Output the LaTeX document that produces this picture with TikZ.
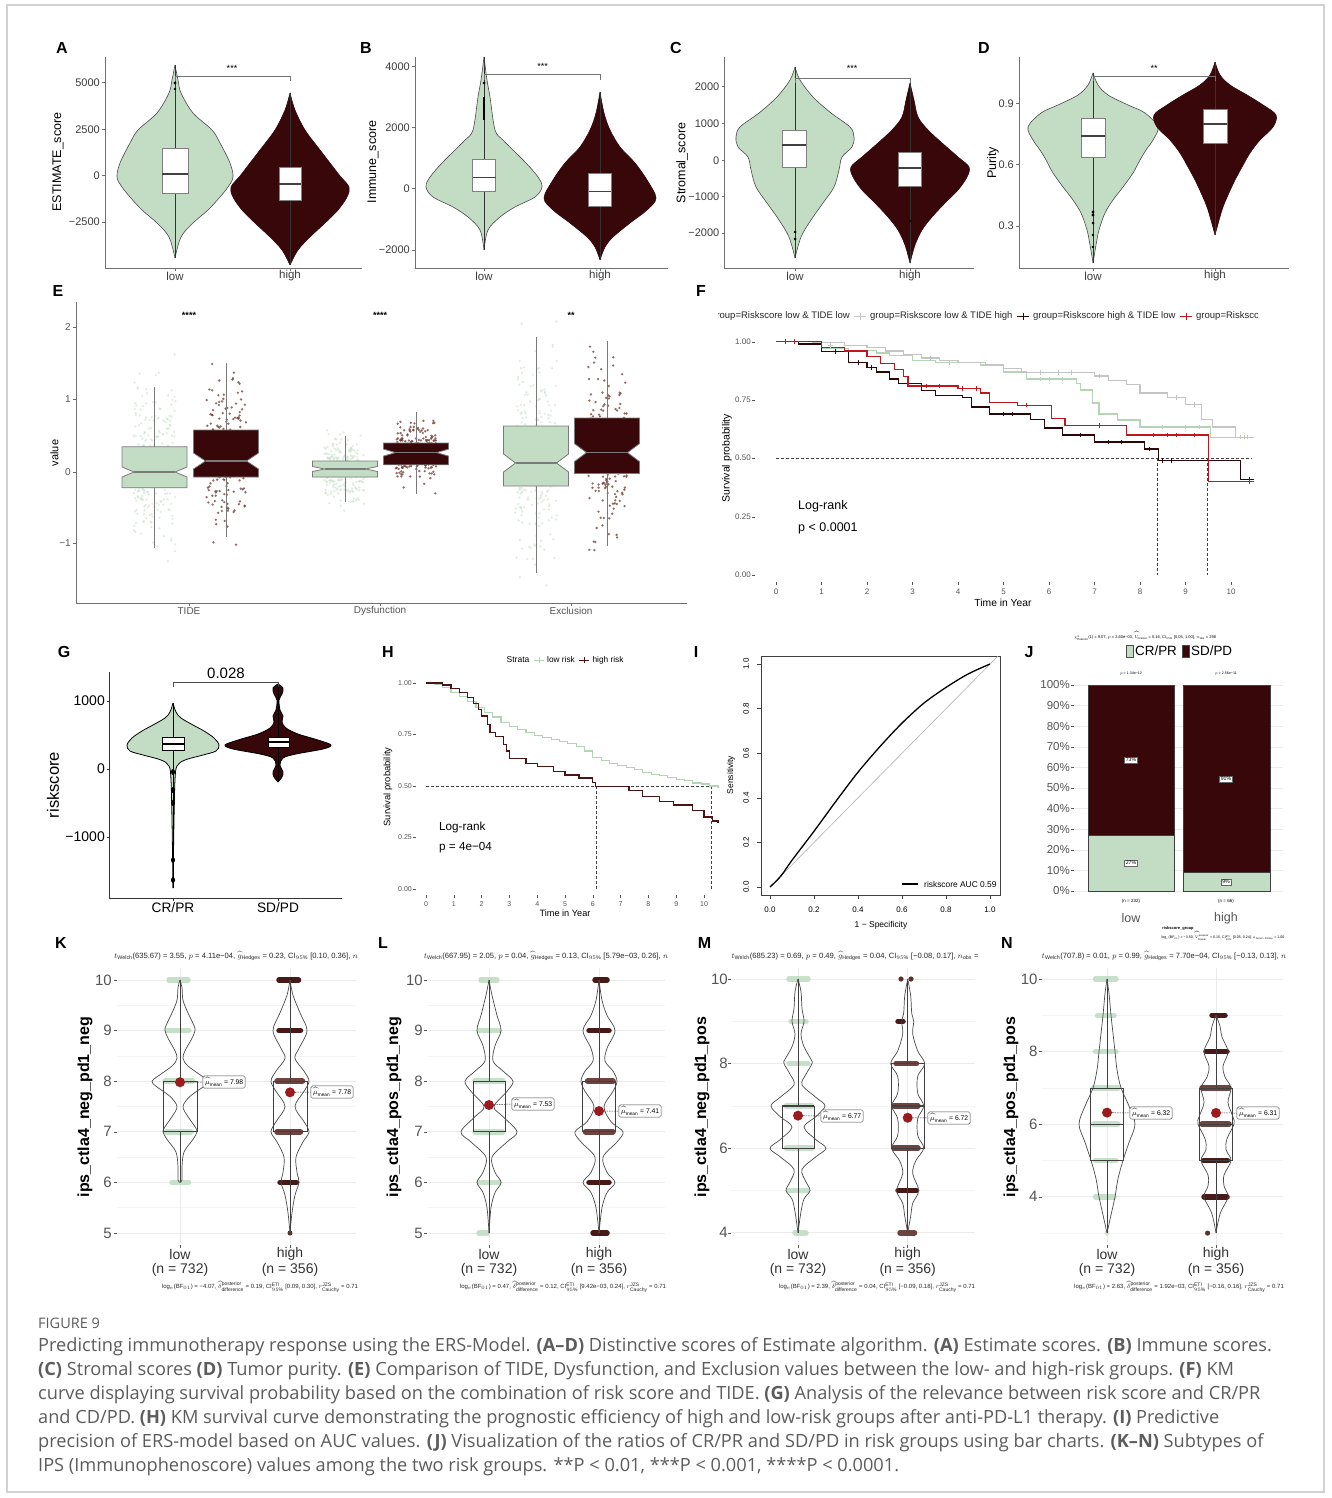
\RequirePackage{fix-cm}
\documentclass[tikz,border=0pt]{standalone}
\usepackage{fontspec}
\setmainfont{Liberation Sans}
\newfontfamily\capfont{Open Sans}
\usetikzlibrary{calc}
\definecolor{lowg}{HTML}{C2DDC4}
\definecolor{highr}{HTML}{370709}
\definecolor{axc}{HTML}{707070}
\definecolor{tkc}{HTML}{3C3C3C}
\definecolor{tkg}{HTML}{555555}
\definecolor{vout}{HTML}{4A4A4A}
\definecolor{boxl}{HTML}{808080}
\definecolor{nbl}{HTML}{7A7A7A}
\definecolor{ptbr}{HTML}{6E3B33}
\definecolor{kmred}{HTML}{C0171F}
\definecolor{kmgray}{HTML}{C4C4C4}
\definecolor{kmgreen}{HTML}{B3D5B3}
\definecolor{kmblk}{HTML}{2B0707}
\definecolor{hdark}{HTML}{4A1414}
\definecolor{meanr}{HTML}{9A1A1E}
\definecolor{gridc}{HTML}{EBEBEB}
\definecolor{gridm}{HTML}{F4F4F4}
\definecolor{capc}{HTML}{5C5C5C}
\definecolor{kpt}{HTML}{3E0E0C}
\definecolor{kpt2}{HTML}{5E302B}
\definecolor{bordc}{HTML}{D2D2D2}
\newcommand\fsz[1]{\fontsize{#1}{#1}\selectfont}
\newcommand\violin[4]{%
  \begin{scope}[#1]
    \fill[#2] plot[smooth,tension=0.55] coordinates {#4} -- cycle;
    \fill[#2,xscale=-1] plot[smooth,tension=0.55] coordinates {#4} -- cycle;
    \draw[#3] plot[smooth,tension=0.55] coordinates {#4};
    \draw[#3,xscale=-1] plot[smooth,tension=0.55] coordinates {#4};
  \end{scope}}
\newcommand\jit[6]{%
  \foreach \i in {1,...,#4}{%
    \pgfmathsetmacro\jx{#1+#6*rand}%
    \pgfmathsetmacro\jy{#2+#3*(rand+rand+rand)}%
    \fill[#5] (\jx,\jy) circle (1.3pt);}}
\newcommand\nbox[6]{%
  \filldraw[fill=#6,draw=nbl,line width=0.8] ({#1-32.5},#2) -- ({#1+32.5},#2) -- ({#1+32.5},{#3-#5}) -- ({#1+20.5},#3) -- ({#1+32.5},{#3+#5}) -- ({#1+32.5},#4) -- ({#1-32.5},#4) -- ({#1-32.5},{#3+#5}) -- ({#1-20.5},#3) -- ({#1-32.5},{#3-#5}) -- cycle;
  \draw[nbl,line width=1.1] ({#1-20.5},#3) -- ({#1+20.5},#3);}
\newcommand\YV[1]{\Yo+\Ys*(10-#1)}
\newcommand\pbar[4]{\draw[#4,line width=5.5,line cap=round] (#1,{\YV{#3}}) -- (#2,{\YV{#3}});}
\newcommand\kbox[5]{%
  \draw[kbx] ({#1-#2},{\YV{#5}}) rectangle ({#1+#2},{\YV{#3}});
  \draw[kbx,line width=1.2] ({#1-#2},{\YV{#4}}) -- ({#1+#2},{\YV{#4}});}
\newcommand\kwh[5]{\draw[kbx] (#1,{\YV{#5}}) -- (#1,{\YV{#4}}) (#1,{\YV{#3}}) -- (#1,{\YV{#2}});}
\newcommand\kaxis[5]{%
  \foreach \v in {#5} \draw[gridm,line width=0.6] (#2,{\YV{\v}}) -- (#3,{\YV{\v}});
  \foreach \v in {#4} {\draw[gridc,line width=0.9] (#2,{\YV{\v}}) -- (#3,{\YV{\v}});
    \draw[tkg,line width=0.6] ({#2-3},{\YV{\v}}) -- (#2,{\YV{\v}});
    \node[tkK] at (#1,{\YV{\v}}) {\v};}}
\tikzset{
  plab/.style={font=\fsz{16}\bfseries,inner sep=0},
  axl/.style={draw=axc,line width=1},
  tkA/.style={font=\fsz{11},text=tkc,anchor=east,inner sep=0},
  xlA/.style={font=\fsz{11.5},text=tkc,inner sep=0},
  ylA/.style={font=\fsz{12.5},rotate=90,inner sep=0},
  boxA/.style={fill=white,draw=boxl,line width=0.8},
  medA/.style={draw=black!75,line width=1.2},
  whA/.style={draw=black!80,line width=0.6},
  brk/.style={draw=black!55,line width=0.6},
  star/.style={font=\fsz{9},inner sep=0},
  tkE/.style={font=\fsz{10},text=tkg,anchor=east,inner sep=0},
  xlE/.style={font=\fsz{10},text=tkg,inner sep=0},
  legF/.style={font=\fsz{9.5},text=black!85,inner sep=0},
  tkF/.style={font=\fsz{8},text=tkg,anchor=east,inner sep=0},
  tkF2/.style={font=\fsz{8},text=tkg,inner sep=0},
  kmdash/.style={draw=black!75,line width=0.6,dash pattern=on 3pt off 2pt},
  tkK/.style={font=\fsz{15},text=tkg,anchor=east,inner sep=0},
  xlK/.style={font=\fsz{14},text=black!80,inner sep=0},
  ylK/.style={font=\fsz{16}\bfseries,rotate=90,inner sep=0},
  kbx/.style={draw=black!75,line width=0.7},
  lowpt/.style={draw=lowg,draw opacity=0.9},
  hipt/.style={draw=kpt2,draw opacity=0.9},
  hipt2/.style={draw=kpt,draw opacity=0.95},
  mlab/.style={draw=black!70,fill=white,rounded corners=1.5pt,inner sep=1.8pt,font=\fsz{6.8},line width=0.5},
  mcon/.style={draw=black!80,line width=0.5,dash pattern=on 1.5pt off 1pt},
  stat/.style={font=\fsz{7.6},inner sep=0,text=black!85},
  statb/.style={font=\fsz{6},inner sep=0,text=black!85},
  capt/.style={font=\capfont\fsz{18.2},text=capc,anchor=west,inner sep=0},
}
\begin{document}
\begin{tikzpicture}[x=1pt,y=-1pt]
\useasboundingbox (0,0) rectangle (1331,1498);
\fill[white] (0,0) rectangle (1331,1498);
\draw[bordc,line width=1.2] (7,5) rectangle (1324,1492);

% ================= A
\node[plab] (labA) at (62,48) {A};
\violin{shift={(175,0)}}{lowg}{draw=vout,line width=0.6}{(0,65) (3,80) (6,93) (18,113) (37,130) (45,143) (55,163) (58,177) (53,187) (45,197) (33,210) (18,223) (6,237) (0,258)}
\draw[whA] (175,65) -- (175,258);
\draw[boxA] (162,148) rectangle (188,193);
\draw[medA] (162,174) -- (188,174);
\fill (175,83) circle (1.6pt) (175,89) circle (1.4pt);
\violin{shift={(290,0)}}{highr}{draw=highr,line width=0.6}{(0,93) (5,110) (15,130) (30,150) (40,163) (50,176) (59,187) (57,197) (48,210) (35,223) (20,237) (8,250) (0,265)}
\draw[whA] (290,93) -- (290,265);
\draw[boxA] (279,167) rectangle (301,200);
\draw[medA] (279,184) -- (301,184);
\draw[axl] (105,57) -- (105,268) -- (362,268);
\foreach \v/\y in {5000/83,2500/129.5,0/176,−2500/222}{\draw[axl] (102,\y) -- (105,\y); \node[tkA] at (100,\y) {\v};}
\draw[axl] (175,268) -- (175,271) (290,268) -- (290,271);
\node[xlA] (xA1) at (175,276) {low};
\node[xlA] (xA2) at (290,276) {high};
\node[ylA] (yA) at (58,162) {ESTIMATE\_score};
\draw[brk] (175,81) -- (175,76) -- (290,76) -- (290,81);
\node[star] (sA) at (232,68) {***};

% ================= B
\node[plab] (labB) at (366,48) {B};
\violin{shift={(484,0)}}{lowg}{draw=vout,line width=0.6}{(0,57) (3,80) (6,97) (11,130) (19,140) (29,150) (42,163) (54,177) (58,187) (51,197) (31,207) (16,217) (4,230) (0,250)}
\draw[whA] (484,57) -- (484,250);
\draw[boxA] (472.7,159.3) rectangle (495.7,191.7);
\draw[medA] (472.7,177.3) -- (495.7,177.3);
\draw[black,line width=2.6] (484,97) -- (484,120);
\fill (484,83) circle (1.5pt);
\violin{shift={(600,0)}}{highr}{draw=highr,line width=0.6}{(0,92) (4,113) (10,130) (20,147) (35,163) (47,180) (56,198) (47,210) (30,223) (13,237) (5,247) (0,260)}
\draw[whA] (600,92) -- (600,260);
\draw[boxA] (588.5,173) rectangle (611,206);
\draw[medA] (588.5,191.7) -- (611,191.7);
\draw[axl] (415,57) -- (415,268) -- (668,268);
\foreach \v/\y in {4000/66.7,2000/127.7,0/189,−2000/250}{\draw[axl] (412,\y) -- (415,\y); \node[tkA] at (410,\y) {\v};}
\draw[axl] (484,268) -- (484,271) (600,268) -- (600,271);
\node[xlA] (xB1) at (484,276) {low};
\node[xlA] (xB2) at (600,276) {high};
\node[ylA] (yB) at (373,162) {Immune\_score};
\draw[brk] (484,80) -- (484,74) -- (600,74) -- (600,80);
\node[star] (sB) at (542.7,66) {***};

% ================= C
\node[plab] (labC) at (676,48) {C};
\violin{shift={(795,0)}}{lowg}{draw=vout,line width=0.6}{(0,67) (5,80) (18,97) (36,113) (55,127) (59,137) (57,147) (47,157) (44,170) (39,187) (28,203) (16,220) (6,237) (0,258)}
\draw[whA] (795,67) -- (795,258);
\draw[boxA] (782,130) rectangle (806,167);
\draw[medA] (782,145) -- (806,145);
\fill (795,232) circle (1.5pt) (795,239) circle (1.5pt);
\violin{shift={(910,0)}}{highr}{draw=highr,line width=0.6}{(0,83) (4,100) (8,117) (18,130) (32,143) (48,157) (59,167) (57,177) (48,190) (35,203) (22,217) (12,230) (5,245) (0,263)}
\draw[whA] (910,83) -- (910,263);
\draw[boxA] (898,152) rectangle (921,186);
\draw[medA] (898,168) -- (921,168);
\fill (910,221) circle (1.3pt);
\draw[axl] (724.5,57) -- (724.5,268) -- (974,268);
\foreach \v/\y in {2000/87,1000/124,0/161,−1000/197,−2000/233}{\draw[axl] (721.5,\y) -- (724.5,\y); \node[tkA] at (719.5,\y) {\v};}
\draw[axl] (795,268) -- (795,271) (910,268) -- (910,271);
\node[xlA] (xC1) at (795,276) {low};
\node[xlA] (xC2) at (910,276) {high};
\node[ylA] (yC) at (682,163) {Stromal\_score};
\draw[brk] (795,83) -- (795,78) -- (910,78) -- (910,83);
\node[star] (sC) at (852,68) {***};

% ================= D
\node[plab] (labD) at (984,48) {D};
\violin{shift={(1093,0)}}{lowg}{draw=vout,line width=0.6}{(0,73) (5,85) (15,95) (35,105) (52,113) (65,127) (60,140) (53,150) (47,160) (40,173) (30,187) (20,200) (12,213) (6,230) (3,245) (0,263)}
\draw[whA] (1093,73) -- (1093,263);
\draw[boxA] (1081,118) rectangle (1105,157);
\draw[medA] (1081,136) -- (1105,136);
\fill (1093,212) circle (1.6pt) (1093,215) circle (1.6pt) (1093,223) circle (1.5pt) (1093,235) circle (1.4pt) (1093,247) circle (1.4pt);
\violin{shift={(1215,0)}}{highr}{draw=highr,line width=0.6}{(0,62) (5,75) (15,85) (32,95) (48,105) (61,115) (58,127) (45,140) (35,153) (27,167) (20,180) (13,195) (7,210) (0,235)}
\draw[whA] (1215,62) -- (1215,235);
\draw[boxA] (1203,109) rectangle (1227,143);
\draw[medA] (1203,124) -- (1227,124);
\draw[axl] (1019,57) -- (1019,268) -- (1289,268);
\foreach \v/\y in {0.9/104,0.6/165,0.3/226}{\draw[axl] (1016,\y) -- (1019,\y); \node[tkA] at (1014,\y) {\v};}
\draw[axl] (1093,268) -- (1093,271) (1215,268) -- (1215,271);
\node[xlA] (xD1) at (1093,276) {low};
\node[xlA] (xD2) at (1215,276) {high};
\node[ylA] (yD) at (993,163) {Purity};
\draw[brk] (1093,81) -- (1093,76) -- (1215,76) -- (1215,81);
\node[star] (sD) at (1154,68) {**};

% ================= E
\node[plab] (labE) at (58,291) {E};
\pgfmathsetseed{42}
\jit{154.5}{465}{40}{260}{lowg,fill opacity=0.5}{21}
\jit{226}{450}{36}{210}{ptbr,fill opacity=0.75}{20}
\jit{345}{469}{15}{260}{lowg,fill opacity=0.5}{21}
\jit{416}{453}{17}{210}{ptbr,fill opacity=0.75}{20}
\jit{536}{457}{50}{260}{lowg,fill opacity=0.5}{21}
\jit{607}{447}{43}{210}{ptbr,fill opacity=0.75}{20}
\draw[nbl,line width=0.7] (154.5,387) -- (154.5,547.6) (226,362.6) -- (226,537) (345,436) -- (345,502) (416,412) -- (416,493.6) (536,337) -- (536,573) (607,341) -- (607,546);
\nbox{154.5}{446.8}{472}{487.8}{5}{lowg}
\nbox{226}{430}{461}{477}{8}{highr}
\nbox{345}{461}{469}{477}{2.5}{lowg}
\nbox{416}{443}{452.6}{464.8}{3.5}{highr}
\nbox{536}{426}{463}{486}{9}{lowg}
\nbox{607}{418}{452.6}{473.4}{9}{highr}
\draw[axl] (76,302) -- (76,603) -- (687,603);
\foreach \v/\y in {2/327,1/399,0/472,−1/543}{\draw[axl] (73,\y) -- (76,\y); \node[tkE] at (71,\y) {\v};}
\foreach \x/\t in {189/TIDE,380/Dysfunction,571/Exclusion}{\draw[axl] (\x,603) -- (\x,606); \node[xlE] at (\x,611) {\t};}
\node[font=\fsz{11},rotate=90,inner sep=0] (yE) at (54.5,453) {value};
\node[star,font=\fsz{9}\bfseries] (sE1) at (189,315) {****};
\node[star,font=\fsz{9}\bfseries] (sE2) at (380,315) {****};
\node[star,font=\fsz{9}\bfseries] (sE3) at (571,315) {**};

% ================= F
\node[plab] (labF) at (701,291) {F};
\begin{scope}
  \clip (718,305) rectangle (1257,328);
  \node[legF,anchor=east] (lf1) at (850,316) {group=Riskscore low \& TIDE low};
  \draw[kmgray,line width=1] (854,316) -- (866,316) (860,312.5) -- (860,319.5);
  \node[legF,anchor=west] (lf2) at (870,316) {group=Riskscore low \& TIDE high};
  \draw[kmblk,line width=1] (1017,316) -- (1029,316) (1023,312.5) -- (1023,319.5);
  \node[legF,anchor=west] (lf3) at (1033,316) {group=Riskscore high \& TIDE low};
  \draw[kmred,line width=1] (1180,316) -- (1192,316) (1186,312.5) -- (1186,319.5);
  \node[legF,anchor=west] (lf4) at (1196,316) {group=Riskscore high \& TIDE high};
\end{scope}
\foreach \v/\y in {1.00/342,0.75/400,0.50/458,0.25/517,0.00/575}{\node[tkF] at (751,\y) {\v}; \draw[tkg,line width=0.5] (752,\y) -- (755,\y);}
\foreach \t in {0,...,10}{\node[tkF2] at ({776+45.5*\t},592) {\t}; \draw[tkg,line width=0.5] ({776+45.5*\t},582) -- ({776+45.5*\t},585);}
\node[font=\fsz{10.3},inner sep=0] (xF) at (1003,603) {Time in Year};
\node[font=\fsz{10.5},rotate=90,inner sep=0] (yF) at (727,458) {Survival probability};
\draw[kmdash] (776,458) -- (1252,458) (1157,458) -- (1157,575) (1207,458) -- (1207,575);
\node[font=\fsz{12.5},anchor=west,inner sep=0] (lrF) at (798,506) {Log-rank};
\node[font=\fsz{12.5},anchor=west,inner sep=0] (pF) at (798,528) {p < 0.0001};
\begin{scope}[shift={(776,575)},xscale=45.5,yscale=-233.3]
  \draw[kmgreen,line width=1.2] plot[const plot] coordinates {(0,1) (0.5,0.99) (1,0.972) (1.6,0.962) (2.2,0.952) (2.5,0.94) (3,0.92) (3.5,0.912) (4.5,0.9) (5,0.87) (5.5,0.84) (6.6,0.82) (6.7,0.793) (6.95,0.737) (7.1,0.69) (7.5,0.664) (8,0.634) (9.55,0.591) (10.5,0.591)};
  \draw[kmgray,line width=1.2] plot[const plot] coordinates {(0,1) (0.8,0.995) (1.5,0.985) (2,0.975) (2.4,0.96) (2.8,0.945) (3.2,0.93) (3.6,0.92) (4,0.912) (4.6,0.9) (5,0.885) (5.4,0.868) (7,0.853) (7.3,0.835) (7.7,0.815) (8,0.78) (8.6,0.76) (9,0.73) (9.35,0.665) (9.6,0.634) (10.1,0.591) (10.5,0.591)};
  \draw[kmblk,line width=1.2] plot[const plot] coordinates {(0,1) (0.5,0.99) (1,0.957) (1.6,0.91) (2,0.89) (2.2,0.87) (2.5,0.84) (2.7,0.82) (3.2,0.79) (3.5,0.77) (4.1,0.76) (4.3,0.72) (4.7,0.69) (5.6,0.665) (5.9,0.63) (6.3,0.60) (7,0.57) (8.1,0.54) (8.4,0.49) (10.2,0.41) (10.5,0.41)};
  \draw[kmred,line width=1.2] plot[const plot] coordinates {(0,1) (1,0.975) (1.5,0.96) (2,0.935) (2.3,0.905) (2.6,0.88) (2.8,0.85) (2.9,0.81) (4,0.80) (4.5,0.78) (4.7,0.74) (5.3,0.728) (6.05,0.67) (6.35,0.64) (7.7,0.60) (9.5,0.40) (10.5,0.40)};
  \foreach \t/\s in {5.8/0.868,6.2/0.868,6.5/0.868,7.1/0.853,8.8/0.76,9.2/0.73,10.2/0.591,10.35/0.591,1.2/0.985,3.4/0.93}
    \draw[kmgray,line width=0.8] (\t-0.05,\s) -- (\t+0.05,\s) (\t,\s-0.01) -- (\t,\s+0.01);
  \foreach \t/\s in {5.8/0.84,6.0/0.84,6.3/0.84,8.5/0.634,9.0/0.634,9.3/0.634,10.3/0.591,3.8/0.912}
    \draw[kmgreen,line width=0.8] (\t-0.05,\s) -- (\t+0.05,\s) (\t,\s-0.01) -- (\t,\s+0.01);
  \foreach \t/\s in {1.3/0.957,1.8/0.91,2.1/0.89,5.0/0.69,5.2/0.69,6.7/0.60,7.3/0.57,7.6/0.57,8.2/0.54,8.5/0.49,8.7/0.49,10.4/0.41}
    \draw[kmblk,line width=0.8] (\t-0.05,\s) -- (\t+0.05,\s) (\t,\s-0.01) -- (\t,\s+0.01);
  \foreach \t/\s in {0.2/1,0.4/1,3.3/0.81,3.6/0.81,4.1/0.80,4.4/0.80,5.5/0.728,7.1/0.64,8.3/0.60,8.6/0.60,8.8/0.60,9.2/0.60,10.4/0.40}
    \draw[kmred,line width=0.8] (\t-0.05,\s) -- (\t+0.05,\s) (\t,\s-0.01) -- (\t,\s+0.01);
\end{scope}

% ================= G
\node[plab] (labG) at (64,652) {G};
\violin{shift={(173,0)}}{lowg}{draw=black,line width=0.8}{(0,703) (3,712) (8,718) (20,725) (31,731) (41,738) (46,745) (43,751) (30,755) (12,760) (4,766) (2,780) (1,820) (0,888)}
\draw[black,line width=0.7] (173,703) -- (173,888);
\foreach \y in {772,790,803,860,880} \fill (173,\y) ellipse (2pt and 3pt);
\draw[fill=white,draw=black,line width=1] (162,737) rectangle (184,750);
\draw[black,line width=2] (162,744) -- (184,744);
\violin{shift={(278,0)}}{highr}{draw=black,line width=0.8}{(0,684) (5,688) (4,694) (1,700) (2,710) (5,716) (4,722) (8,728) (20,734) (40,740) (53,745) (45,749) (18,754) (5,758) (2,765) (5,772) (4,777) (0,782)}
\draw[black,line width=0.7] (278,684) -- (278,782);
\draw[fill=white,draw=black,line width=1] (268,737) rectangle (289,747);
\draw[black,line width=2] (268,742) -- (289,742);
\draw[black!80,line width=1] (109.6,672) -- (109.6,898) -- (342,898);
\foreach \v/\y in {1000/701,0/769,−1000/837}{\draw[black!80,line width=1] (106.6,\y) -- (109.6,\y); \node[font=\fsz{14},anchor=east,inner sep=0] at (105,\y) {\v};}
\draw[black!80,line width=1] (173,898) -- (173,901) (278,898) -- (278,901);
\node[font=\fsz{13.7},inner sep=0] (xG1) at (173,908) {CR/PR};
\node[font=\fsz{13.7},inner sep=0] (xG2) at (278,908) {SD/PD};
\node[font=\fsz{16.5},rotate=90,inner sep=0] (yG) at (53,785) {riskscore};
\draw[black!70,line width=0.7] (173,687) -- (173,682) -- (278,682) -- (278,687);
\node[font=\fsz{15},inner sep=0] (pG) at (226,673) {0.028};

% ================= H
\node[plab] (labH) at (388,652) {H};
\node[font=\fsz{8.5},inner sep=0] (hs) at (518,660) {Strata};
\draw[kmgreen,line width=1] (534,660) -- (544,660) (539,657) -- (539,663);
\node[font=\fsz{8.3},inner sep=0] (hl1) at (561,660) {low risk};
\draw[hdark,line width=1] (579,660) -- (589,660) (584,657) -- (584,663);
\node[font=\fsz{8.3},inner sep=0] (hl2) at (608,660) {high risk};
\foreach \v/\y in {1.00/683,0.75/734,0.50/786,0.25/837,0.00/889}{\node[font=\fsz{7},text=tkg,anchor=east,inner sep=0] at (412,\y) {\v}; \draw[tkg,line width=0.5] (413,\y) -- (416,\y);}
\foreach \t in {0,...,10}{\node[font=\fsz{7},text=tkg,inner sep=0] at ({426+27.8*\t},904) {\t}; \draw[tkg,line width=0.5] ({426+27.8*\t},895) -- ({426+27.8*\t},898);}
\node[font=\fsz{9.2},inner sep=0] (xH) at (565,913) {Time in Year};
\node[font=\fsz{9.4},rotate=90,inner sep=0] (yH) at (388,787) {Survival probability};
\draw[kmdash] (426,786) -- (712,786) (596,786) -- (596,889) (711,786) -- (711,889);
\node[font=\fsz{11.7},anchor=west,inner sep=0] (lrH) at (439,827) {Log-rank};
\node[font=\fsz{11.7},anchor=west,inner sep=0] (pH) at (439,848) {p = 4e−04};
\begin{scope}[shift={(426,889)},xscale=27.8,yscale=-206]
  \draw[kmgreen,line width=1.2] plot[const plot] coordinates {(0,1) (0.3,0.995) (0.6,0.98) (0.9,0.955) (1.2,0.935) (1.5,0.91) (1.8,0.88) (2.1,0.855) (2.4,0.835) (2.7,0.81) (3,0.79) (3.3,0.775) (3.6,0.76) (3.9,0.745) (4.2,0.735) (4.5,0.725) (4.8,0.715) (5.1,0.705) (5.4,0.69) (5.7,0.67) (6,0.64) (6.3,0.625) (6.6,0.61) (6.9,0.6) (7.2,0.59) (7.5,0.58) (7.8,0.565) (8.1,0.555) (8.4,0.55) (8.7,0.54) (9,0.53) (9.3,0.525) (9.6,0.515) (9.9,0.51) (10.2,0.5) (10.5,0.49)};
  \draw[hdark,line width=1.2] plot[const plot] coordinates {(0,1) (0.6,0.99) (0.9,0.975) (1.2,0.955) (1.5,0.93) (1.7,0.9) (1.9,0.87) (2.0,0.84) (2.2,0.8) (2.3,0.76) (2.5,0.74) (2.8,0.70) (2.9,0.67) (3,0.635) (3.6,0.61) (4,0.594) (4.6,0.57) (5,0.553) (5.5,0.539) (6,0.516) (6.1,0.497) (7.3,0.48) (7.8,0.448) (8.4,0.424) (8.9,0.408) (9.6,0.383) (10,0.35) (10.3,0.33) (10.5,0.32)};
\end{scope}

% ================= I
\node[plab] (labI) at (696,652) {I};
\draw[black!75,line width=0.8] (761,656) rectangle (1000,895);
\foreach \v in {0.0,0.2,0.4,0.6,0.8,1.0}{\draw[black!75,line width=0.6] ({770+220*\v},895) -- ({770+220*\v},899); \node[font=\fsz{8},inner sep=0] at ({770+220*\v},910) {\v};
  \draw[black!75,line width=0.6] (757,{887-223*\v}) -- (761,{887-223*\v}); \node[font=\fsz{8},rotate=90,inner sep=0] at (746,{887-223*\v}) {\v};}
\node[font=\fsz{8.5},inner sep=0] (xI) at (881,925) {1 − Specificity};
\node[font=\fsz{8.5},rotate=90,inner sep=0] (yI) at (731,775) {Sensitivity};
\draw[black!30,line width=0.6] (770,887) -- (998,656);
\begin{scope}[shift={(770,887)},xscale=220,yscale=-223]
  \draw[black,line width=1.3] plot[smooth] coordinates {(0,0) (0.05,0.05) (0.1,0.12) (0.2,0.25) (0.3,0.385) (0.4,0.515) (0.5,0.63) (0.6,0.735) (0.7,0.825) (0.8,0.895) (0.9,0.955) (1,1)};
\end{scope}
\draw[black,line width=1.2] (902,884) -- (918,884);
\node[font=\fsz{8.4},anchor=west,inner sep=0] (lI) at (924,884) {riskscore AUC 0.59};

% ================= J
\node[plab] (labJ) at (1029,652) {J};
\node[font=\fsz{4},inner sep=0] (jt) at (1145,636) {$\chi^{2}_{\mathrm{Pearson}}$(1) = 9.07, $p$ = 2.60e−03, $\widehat{V}_{\mathrm{Cramer}}$ = 0.16, CI$_{95\%}$ [0.05, 1.00], $n_{\mathrm{obs}}$ = 298};
\draw[black!70,fill=lowg,line width=0.5] (1126.5,645) rectangle (1133.5,657);
\node[font=\fsz{13.4},anchor=west,inner sep=0] (jl1) at (1135,651) {CR/PR};
\draw[black!70,fill=highr,line width=0.5] (1182.5,645) rectangle (1189.5,657);
\node[font=\fsz{13.4},anchor=west,inner sep=0] (jl2) at (1191,651) {SD/PD};
\foreach \k/\p in {0/0,1/10,2/20,3/30,4/40,5/50,6/60,7/70,8/80,9/90,10/100}{
  \draw[gridc,line width=0.6] (1075,{891-20.6*\k}) -- (1283,{891-20.6*\k});
  \draw[tkg,line width=0.5] (1071,{891-20.6*\k}) -- (1074,{891-20.6*\k});
  \node[font=\fsz{11.5},text=tkg,anchor=east,inner sep=0] at (1070,{891-20.6*\k}) {\p\%};}
\draw[black!75,line width=0.6,fill=highr] (1088,685) rectangle (1174,835.4);
\draw[black!75,line width=0.6,fill=lowg] (1088,835.4) rectangle (1174,891);
\draw[black!75,line width=0.6,fill=highr] (1183,685) rectangle (1270,872.5);
\draw[black!75,line width=0.6,fill=lowg] (1183,872.5) rectangle (1270,891);
\foreach \x/\y/\t in {1131/760/73\%,1131/863/27\%,1226/779/91\%,1226/882/9\%}
  \node[draw=black!60,fill=white,line width=0.3,inner sep=1.2pt,font=\fsz{5.2}] at (\x,\y) {\t};
\node[font=\fsz{3.6},inner sep=0] (jp1) at (1131,674) {$p$ = 1.34e−12};
\node[font=\fsz{3.6},inner sep=0] (jp2) at (1226,674) {$p$ = 2.56e−11};
\node[font=\fsz{4.5},inner sep=0] (jn1) at (1131,901) {(n = 232)};
\node[font=\fsz{4.5},inner sep=0] (jn2) at (1226,901) {(n = 66)};
\node[font=\fsz{12.5},text=tkg,inner sep=0] (jx1) at (1131,918) {low};
\node[font=\fsz{12.5},text=tkg,inner sep=0] (jx2) at (1226,918) {high};
\node[font=\fsz{4}\bfseries,inner sep=0] (jg) at (1178,928) {riskscore\_group};
\node[font=\fsz{3.6},inner sep=0] (jb) at (1223,936) {log$_{e}$(BF$_{01}$) = −3.50, $\widehat{V}^{\mathrm{posterior}}_{\mathrm{Cramer}}$ = 0.15, CI$^{\mathrm{ETI}}_{95\%}$ [0.05, 0.24], $a_{\mathrm{Gunel-Dickey}}$ = 1.00};

% ================= K
\def\Yo{980}\def\Ys{50.6}
\node[plab] (labK) at (61,943) {K};
\node[stat] (sK1) at (236,956) {$t_{\mathrm{Welch}}$(635.67) = 3.55, $p$ = 4.11e−04, $\widehat{g}_{\mathrm{Hedges}}$ = 0.23, CI$_{95\%}$ [0.10, 0.36], $n$};
\kaxis{112}{117}{356}{5,...,10}{5.5,6.5,...,9.5}
\draw[gridc,line width=0.9] (180,968) -- (180,1245) (290,968) -- (290,1245);
\pbar{169}{188}{10}{lowpt}\pbar{167}{189}{9}{lowpt}\pbar{165}{192.5}{8}{lowpt}\pbar{166}{191}{7}{lowpt}\pbar{172}{188.5}{6}{lowpt}
\pbar{279}{298.5}{10}{hipt2}\pbar{279}{300.5}{9}{hipt2}\pbar{277}{302.5}{8}{hipt}\pbar{277}{300.5}{7}{hipt}\pbar{280}{296.5}{6}{hipt2}
\fill[kpt2] (290,{\YV{5}}) circle (2.5pt);
\kwh{180}{6}{7}{8}{10}
\kbox{180}{17}{7}{8}{8}
\kwh{290}{5}{7}{8}{10}
\kbox{290}{17}{7}{8}{8}
\violin{shift={(180,\Yo)},yscale=\Ys}{fill=none}{draw=vout,line width=0.7}{(0,0) (2,0.15) (3,0.4) (8,0.65) (14,0.9) (15,1.0) (12,1.15) (5,1.4) (3,1.55) (8,1.7) (22,1.9) (28,2.0) (24,2.1) (10,2.3) (3,2.5) (8,2.7) (15,2.9) (17,3.0) (13,3.15) (4,3.4) (2,3.7) (2,3.95) (0,4.0)}
\violin{shift={(290,\Yo)},yscale=\Ys}{fill=none}{draw=vout,line width=0.7}{(0,0) (3,0.3) (10,0.65) (17,1.0) (9,1.35) (5,1.55) (14,1.8) (19,2.0) (14,2.2) (5,2.5) (14,2.8) (19,3.0) (13,3.2) (6,3.5) (7,3.8) (9,4.0) (5,4.25) (2,4.6) (0,5.0)}
\coordinate (mK1) at (180,{\YV{7.98}});
\coordinate (mK2) at (290,{\YV{7.78}});
\node[mlab] (tK1) at (224,1082) {$\widehat{\mu}_{\mathrm{mean}}$ = 7.98};
\node[mlab] (tK2) at (332,1092) {$\widehat{\mu}_{\mathrm{mean}}$ = 7.78};
\draw[mcon] (mK1) -- (tK1.west) (mK2) -- (tK2.west);
\fill[meanr] (mK1) circle (5pt) (mK2) circle (5pt);
\draw[tkg,line width=0.6] (180,1245) -- (180,1248) (290,1245) -- (290,1248);
\node[xlK] (xK1) at (180,1254) {low};
\node[xlK] (xK1n) at (180,1270) {(n = 732)};
\node[xlK] (xK2) at (290,1254) {high};
\node[xlK] (xK2n) at (290,1270) {(n = 356)};
\node[ylK] (yK) at (85,1107) {ips\_ctla4\_neg\_pd1\_neg};
\node[statb] (sK2) at (260,1287) {log$_{e}$(BF$_{01}$) = −4.07, $\widehat{\delta}^{\mathrm{posterior}}_{\mathrm{difference}}$ = 0.19, CI$^{\mathrm{ETI}}_{95\%}$ [0.09, 0.30], $r^{\mathrm{JZS}}_{\mathrm{Cauchy}}$ = 0.71};

% ================= L
\node[plab] (labL) at (383,943) {L};
\node[stat] (sL1) at (546,956) {$t_{\mathrm{Welch}}$(667.95) = 2.05, $p$ = 0.04, $\widehat{g}_{\mathrm{Hedges}}$ = 0.13, CI$_{95\%}$ [5.79e−03, 0.26], $n$};
\kaxis{423}{427}{665}{5,...,10}{5.5,6.5,...,9.5}
\draw[gridc,line width=0.9] (489,968) -- (489,1245) (599,968) -- (599,1245);
\pbar{481}{497}{10}{lowpt}\pbar{479}{499}{9}{lowpt}\pbar{475}{503}{8}{lowpt}\pbar{475}{503}{7}{lowpt}\pbar{479}{499}{6}{lowpt}\pbar{479}{487}{5}{lowpt}
\pbar{595}{607}{10}{hipt2}\pbar{589}{609}{9}{hipt2}\pbar{587.5}{613}{8}{hipt}\pbar{585.5}{613}{7}{hipt}\pbar{589}{609}{6}{hipt2}\pbar{593}{607}{5}{hipt2}
\kwh{489}{5}{7}{8}{10}
\kbox{489}{16}{7}{7}{8}
\kwh{599}{5}{7}{8}{10}
\kbox{599}{16.7}{7}{7}{8}
\violin{shift={(489,\Yo)},yscale=\Ys}{fill=none}{draw=vout,line width=0.7}{(0,0) (3,0.3) (8,0.7) (12,1.0) (6,1.3) (4,1.6) (14,1.8) (24,2.0) (18,2.2) (5,2.5) (14,2.7) (28,3.0) (18,3.2) (3,3.5) (6,3.8) (12,4.0) (6,4.2) (2,4.5) (0,5.0)}
\violin{shift={(599,\Yo)},yscale=\Ys}{fill=none}{draw=vout,line width=0.7}{(0,0) (3,0.4) (8,0.7) (16,1.0) (8,1.35) (6,1.6) (14,1.8) (18,2.0) (14,2.2) (5,2.5) (12,2.8) (24,3.0) (18,3.2) (4,3.5) (8,3.8) (16,4.0) (8,4.2) (3,4.5) (0,5.0)}
\coordinate (mL1) at (489,{\YV{7.53}});
\coordinate (mL2) at (599,{\YV{7.41}});
\node[mlab] (tL1) at (533,1104) {$\widehat{\mu}_{\mathrm{mean}}$ = 7.53};
\node[mlab] (tL2) at (640,1111) {$\widehat{\mu}_{\mathrm{mean}}$ = 7.41};
\draw[mcon] (mL1) -- (tL1.west) (mL2) -- (tL2.west);
\fill[meanr] (mL1) circle (5pt) (mL2) circle (5pt);
\draw[tkg,line width=0.6] (489,1245) -- (489,1248) (599,1245) -- (599,1248);
\node[xlK] (xL1) at (489,1254) {low};
\node[xlK] (xL1n) at (489,1270) {(n = 732)};
\node[xlK] (xL2) at (599,1254) {high};
\node[xlK] (xL2n) at (599,1270) {(n = 356)};
\node[ylK] (yL) at (394,1107) {ips\_ctla4\_pos\_pd1\_neg};
\node[statb] (sL2) at (563,1287) {log$_{e}$(BF$_{01}$) = 0.47, $\widehat{\delta}^{\mathrm{posterior}}_{\mathrm{difference}}$ = 0.12, CI$^{\mathrm{ETI}}_{95\%}$ [9.42e−03, 0.24], $r^{\mathrm{JZS}}_{\mathrm{Cauchy}}$ = 0.71};

% ================= M
\def\Yo{979}\def\Ys{42.3}
\node[plab] (labM) at (704.5,943) {M};
\node[stat] (sM1) at (855,956) {$t_{\mathrm{Welch}}$(685.23) = 0.69, $p$ = 0.49, $\widehat{g}_{\mathrm{Hedges}}$ = 0.04, CI$_{95\%}$ [−0.08, 0.17], $n_{\mathrm{obs}}$ =};
\kaxis{728}{731}{974.5}{4,6,8,10}{5,7,9}
\draw[gridc,line width=0.9] (798,968) -- (798,1245) (907.7,968) -- (907.7,1245);
\pbar{789}{808}{10}{lowpt}\pbar{791}{806}{9}{lowpt}\pbar{789}{808}{8}{lowpt}\pbar{786}{812}{7}{lowpt}\pbar{786}{812}{6}{lowpt}\pbar{788.5}{807.5}{5}{lowpt}\pbar{795}{806}{4}{lowpt}
\fill[kpt2] (901,{\YV{10}}) circle (2.6pt) (911,{\YV{10}}) circle (2.6pt);
\pbar{898}{903}{9}{hipt2}\pbar{896}{916.5}{8}{hipt}\pbar{894}{918}{7}{hipt}\pbar{894}{918}{6}{hipt}\pbar{898}{916.5}{5}{hipt2}\pbar{900}{914.5}{4}{hipt}
\kwh{798}{4}{6}{7}{10}
\kbox{798}{16}{6}{7}{7}
\kwh{907.7}{4}{6}{8}{10}
\kbox{907.7}{16.3}{6}{7}{8}
\violin{shift={(798,\Yo)},yscale=\Ys}{fill=none}{draw=vout,line width=0.7}{(0,0) (3,0.3) (4,0.7) (6,1.0) (3,1.3) (6,1.6) (13,1.9) (14,2.0) (8,2.25) (4,2.5) (18,2.8) (27,3.0) (18,3.25) (6,3.5) (18,3.8) (28,4.0) (18,4.2) (4,4.5) (8,4.8) (12,5.0) (6,5.2) (3,5.5) (0,6.0)}
\violin{shift={(907.7,\Yo)},yscale=\Ys}{fill=none}{draw=vout,line width=0.7}{(0,0) (3,0.4) (4,0.8) (6,1.0) (5,1.3) (10,1.7) (17,2.0) (10,2.3) (10,2.7) (16,3.0) (10,3.3) (10,3.7) (16,4.0) (8,4.3) (5,4.6) (11,5.0) (5,5.3) (3,5.6) (0,6.0)}
\coordinate (mM1) at (798,{\YV{6.77}});
\coordinate (mM2) at (907.7,{\YV{6.72}});
\node[mlab] (tM1) at (842,1116) {$\widehat{\mu}_{\mathrm{mean}}$ = 6.77};
\node[mlab] (tM2) at (949,1118) {$\widehat{\mu}_{\mathrm{mean}}$ = 6.72};
\draw[mcon] (mM1) -- (tM1.west) (mM2) -- (tM2.west);
\fill[meanr] (mM1) circle (5pt) (mM2) circle (5pt);
\draw[tkg,line width=0.6] (798,1245) -- (798,1248) (907.7,1245) -- (907.7,1248);
\node[xlK] (xM1) at (798,1254) {low};
\node[xlK] (xM1n) at (798,1270) {(n = 732)};
\node[xlK] (xM2) at (907.7,1254) {high};
\node[xlK] (xM2n) at (907.7,1270) {(n = 356)};
\node[ylK] (yM) at (702,1107) {ips\_ctla4\_neg\_pd1\_pos};
\node[statb] (sM2) at (877,1287) {log$_{e}$(BF$_{01}$) = 2.39, $\widehat{\delta}^{\mathrm{posterior}}_{\mathrm{difference}}$ = 0.04, CI$^{\mathrm{ETI}}_{95\%}$ [−0.09, 0.18], $r^{\mathrm{JZS}}_{\mathrm{Cauchy}}$ = 0.71};

% ================= N
\def\Yo{979}\def\Ys{36.3}
\node[plab] (labN) at (1007,943) {N};
\node[stat] (sN1) at (1164,956) {$t_{\mathrm{Welch}}$(707.8) = 0.01, $p$ = 0.99, $\widehat{g}_{\mathrm{Hedges}}$ = 7.70e−04, CI$_{95\%}$ [−0.13, 0.13], $n$};
\kaxis{1037.7}{1041.6}{1282.8}{4,6,8,10}{3,5,7,9}
\draw[gridc,line width=0.9] (1107,968) -- (1107,1245) (1216,968) -- (1216,1245);
\pbar{1095.5}{1116}{10}{lowpt}\pbar{1097.5}{1114}{9}{lowpt}\pbar{1095.5}{1116}{8}{lowpt}\pbar{1093.5}{1118}{7}{lowpt}\pbar{1093.5}{1118}{6}{lowpt}\pbar{1095.5}{1116}{5}{lowpt}\pbar{1095.5}{1114}{4}{lowpt}
\fill[lowg,fill opacity=0.6] (1107,{\YV{3}}) circle (2.6pt);
\pbar{1212}{1225}{9}{hipt2}\pbar{1206}{1227}{8}{hipt2}\pbar{1202}{1229}{7}{hipt}\pbar{1202}{1229}{6}{hipt}\pbar{1203.5}{1227.5}{5}{hipt2}\pbar{1204}{1227}{4}{hipt2}
\fill[kpt2] (1207.6,{\YV{3}}) circle (2.6pt);
\kwh{1107}{3}{5}{7}{10}
\kbox{1107}{16.5}{5}{6}{7}
\kwh{1216}{3}{5}{7}{9}
\kbox{1216}{16.25}{5}{6}{7}
\violin{shift={(1107,\Yo)},yscale=\Ys}{fill=none}{draw=vout,line width=0.7}{(0,0) (2,0.4) (4,1.0) (6,1.5) (8,2.0) (10,2.5) (14,3.0) (22,3.5) (28,4.0) (22,4.5) (16,5.0) (11,5.5) (8,6.0) (4,6.5) (0,7.0)}
\violin{shift={(1216,\Yo)},yscale=\Ys}{fill=none}{draw=vout,line width=0.7}{(0,1.0) (4,1.3) (6,1.6) (12,2.0) (7,2.4) (9,2.7) (15,3.0) (12,3.4) (17,3.8) (18,4.0) (11,4.4) (10,4.7) (15,5.0) (8,5.4) (8,5.7) (12,6.0) (5,6.4) (2,6.7) (0,7.0)}
\coordinate (mN1) at (1107,{\YV{6.32}});
\coordinate (mN2) at (1216,{\YV{6.31}});
\node[mlab] (tN1) at (1151,1113) {$\widehat{\mu}_{\mathrm{mean}}$ = 6.32};
\node[mlab] (tN2) at (1258,1113) {$\widehat{\mu}_{\mathrm{mean}}$ = 6.31};
\draw[mcon] (mN1) -- (tN1.west) (mN2) -- (tN2.west);
\fill[meanr] (mN1) circle (5pt) (mN2) circle (5pt);
\draw[tkg,line width=0.6] (1107,1245) -- (1107,1248) (1216,1245) -- (1216,1248);
\node[xlK] (xN1) at (1107,1254) {low};
\node[xlK] (xN1n) at (1107,1270) {(n = 732)};
\node[xlK] (xN2) at (1216,1254) {high};
\node[xlK] (xN2n) at (1216,1270) {(n = 356)};
\node[ylK] (yN) at (1011,1107) {ips\_ctla4\_pos\_pd1\_pos};
\node[statb] (sN2) at (1179,1287) {log$_{e}$(BF$_{01}$) = 2.63, $\widehat{\delta}^{\mathrm{posterior}}_{\mathrm{difference}}$ = 1.92e−03, CI$^{\mathrm{ETI}}_{95\%}$ [−0.16, 0.16], $r^{\mathrm{JZS}}_{\mathrm{Cauchy}}$ = 0.71};

% ================= caption
\node[capt,font=\capfont\fsz{14.5}] (fig) at (38,1323) {FIGURE 9};
\node[capt] (c1) at (38,1347) {Predicting immunotherapy response using the ERS-Model. \textbf{(A–D)} Distinctive scores of Estimate algorithm. \textbf{(A)} Estimate scores. \textbf{(B)} Immune scores.};
\node[capt] (c2) at (38,1371) {\textbf{(C)} Stromal scores \textbf{(D)} Tumor purity. \textbf{(E)} Comparison of TIDE, Dysfunction, and Exclusion values between the low- and high-risk groups. \textbf{(F)} KM};
\node[capt] (c3) at (38,1395) {curve displaying survival probability based on the combination of risk score and TIDE. \textbf{(G)} Analysis of the relevance between risk score and CR/PR};
\node[capt] (c4) at (38,1419) {and CD/PD. \textbf{(H)} KM survival curve demonstrating the prognostic efficiency of high and low-risk groups after anti-PD-L1 therapy. \textbf{(I)} Predictive};
\node[capt] (c5) at (38,1443) {precision of ERS-model based on AUC values. \textbf{(J)} Visualization of the ratios of CR/PR and SD/PD in risk groups using bar charts. \textbf{(K–N)} Subtypes of};
\node[capt] (c6) at (38,1467) {IPS (Immunophenoscore) values among the two risk groups. **P < 0.01, ***P < 0.001, ****P < 0.0001.};
\end{tikzpicture}
\end{document}
